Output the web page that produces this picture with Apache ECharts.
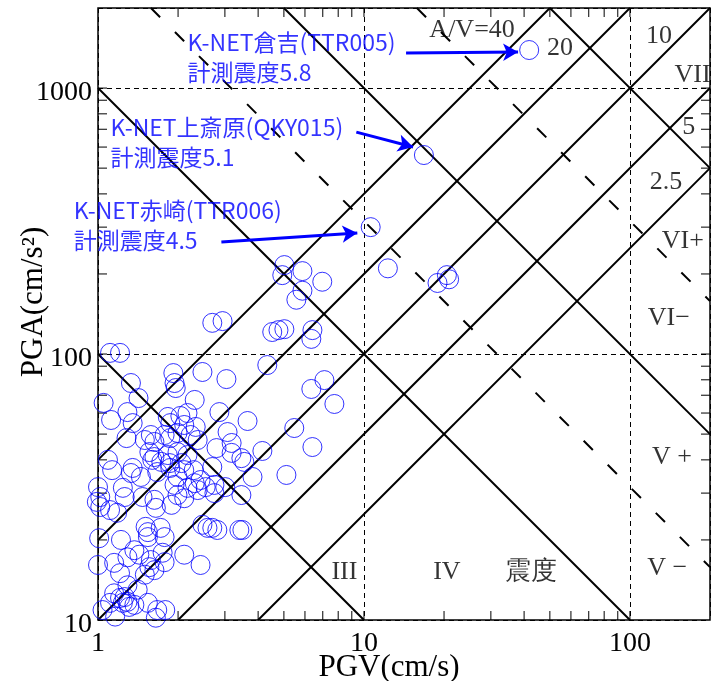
<!DOCTYPE html>
<html lang="ja">
<head>
<meta charset="UTF-8">
<title>PGV-PGA</title>
<script src="https://cdn.jsdelivr.net/npm/echarts@6/dist/echarts.min.js"></script>
<style>
    html, body { margin: 0; padding: 0; background: #fff; }
    #container { width: 712px; height: 681px; }
</style>
</head>
<body>
<div id="container"></div>
<script>
    // 観測点 (PGV cm/s, PGA cm/s2)
    var pgv = [41.8, 16.8, 10.6, 12.3, 18.9, 20.5, 20.9, 5.02, 4.93, 5.87, 6.97, 5.87, 5.57, 2.94, 2.69, 4.52, 4.77, 5.02, 6.40, 6.34,
        4.33, 1.11, 1.21, 1.92, 2.47, 1.33, 1.94, 1.96, 1.05, 1.42, 2.31, 1.29, 1.12, 1.35, 1.83, 1.87, 2.17, 2.11, 2.33, 1.28,
        1.58, 1.63, 1.78, 1.87, 1.99, 2.23, 2.37, 1.50, 1.56, 1.63, 1.60, 1.83, 1.99, 2.17, 1.09, 1.13, 1.35, 1.33, 1.45, 1.86,
        1.87, 2.11, 1.99, 2.43, 2.31, 1.00, 1.24, 1.94, 2.17, 2.37, 2.54, 1.02, 1.99, 3.04, 7.10, 6.34, 7.74, 2.86, 3.65, 5.47,
        3.07, 3.18, 6.40, 4.15, 2.79, 3.18, 3.46, 3.55, 2.69, 3.81, 5.11, 3.01, 2.74, 3.46, 2.74, 1.67, 1.73, 2.06, 2.04, 2.29,
        0.99, 1.02, 1.11, 1.18, 1.26, 1.47, 1.63, 2.11, 1.65, 1.01, 1.22, 1.51, 1.54, 1.54, 1.72, 1.78, 2.47, 2.58, 2.69, 1.00,
        1.15, 1.21, 1.29, 1.37, 1.43, 1.56, 1.63, 1.58, 1.75, 1.78, 2.11, 2.43, 1.50, 1.15, 1.21, 1.26, 1.29, 1.24, 1.37, 1.11,
        1.04, 1.16, 1.54, 1.67, 1.79, 1.65, 1.41, 1.29, 2.81, 3.40, 3.49, 1.31, 1.89];
    var pga = [1390, 560, 300, 210, 185, 198, 191, 216, 198, 205, 187, 173, 160, 133, 131, 121, 123, 124, 123, 114,
        90.9, 101, 101, 84.8, 85.6, 77.8, 77.8, 74.5, 65.5, 68.3, 67.2, 60.5, 56.5, 55.0, 58.0, 55.0, 60.0, 54.1, 53.2, 48.3,
        49.6, 46.7, 49.6, 48.3, 50.5, 49.6, 47.5, 47.5, 42.8, 41.0, 40.0, 41.7, 42.8, 41.7, 40.0, 36.6, 37.3, 35.7, 34.5, 38.9,
        37.3, 36.6, 34.5, 33.6, 32.7, 31.6, 31.4, 32.2, 31.4, 30.8, 31.6, 29.0, 29.5, 80.5, 79.8, 73.9, 64.9, 60.5, 56.0, 52.7,
        50.9, 46.3, 44.7, 43.2, 44.3, 42.5, 40.6, 39.3, 37.6, 34.5, 35.1, 31.6, 32.2, 29.5, 30.0, 36.0, 39.3, 38.9, 58.5, 36.6,
        27.8, 26.6, 25.9, 25.3, 29.0, 29.0, 28.3, 28.7, 26.4, 20.3, 20.0, 22.4, 21.4, 20.5, 22.2, 20.5, 22.8, 22.2, 22.2, 16.1,
        16.4, 15.0, 17.2, 18.3, 17.6, 15.8, 15.4, 16.8, 17.9, 16.5, 17.6, 16.1, 14.8, 12.6, 12.1, 12.2, 11.7, 11.6, 11.4, 11.6,
        10.9, 10.3, 11.6, 10.9, 10.9, 10.2, 13.0, 13.5, 21.8, 21.8, 21.8, 11.2, 27.1];

    // A/V 一定の線と A*V 一定の線 (震度境界)
    var avRatios = [40, 20, 10, 5, 2.5];
    var avProducts = [100, 1000, 3162, 10000, 31623, 100000];
    var avProductDashed = [false, false, true, false, true, false];

    var xMin = 1, xMax = 200, yMin = 10, yMax = 2000;
    var decadesX = [1, 10, 100];
    var decadesY = [10, 100, 1000];

    // 図中ラベル
    var plotLabels = [
        {name: 'A/V=40', value: [25.5, 1652]},
        {name: '20', value: [54.6, 1413]},
        {name: '10', value: [128.5, 1567]},
        {name: 'VII', value: [172, 1120]},
        {name: '5', value: [166.5, 713]},
        {name: '2.5', value: [136.5, 444]},
        {name: 'VI+', value: [158, 266]},
        {name: 'VI−', value: [140, 136]},
        {name: 'V +', value: [144, 41]},
        {name: 'V −', value: [138, 15.7]},
        {name: 'III', value: [8.44, 15.1]},
        {name: 'IV', value: [20.5, 15.1]},
        {name: '震度', value: [42.5, 15.1]}
    ];

    var stationNotes = [
        {name: 'K-NET倉吉(TTR005)\n計測震度5.8', value: [2.17, 1302]},
        {name: 'K-NET上斎原(QKY015)\n計測震度5.1', value: [1.115, 627]},
        {name: 'K-NET赤崎(TTR006)\n計測震度4.5', value: [0.81, 304]}
    ];
    var arrows = [
        [[14.4, 1354], [37.97, 1365]],
        [[9.36, 683], [15.3, 600]],
        [[2.91, 264], [9.44, 285]]
    ];

    var blue = '#0000ff';
    var serif = '"Liberation Serif", "Times New Roman", serif';
    var tickLen = 9;

    var points = pgv.map(function (v, i) { return [v, pga[i]]; });

    var xTicks = [], yTicks = [];
    decadesX.forEach(function (d) {
        for (var k = 1; k <= 9; k++) {
            var v = d * k;
            if (v > xMin && v < xMax) xTicks.push([v, yMin]);
        }
    });
    decadesY.forEach(function (d) {
        for (var k = 1; k <= 9; k++) {
            var v = d * k;
            if (v > yMin && v < yMax) yTicks.push([xMin, v]);
        }
    });

    function isDecade(v) {
        var l = Math.log(v) / Math.LN10;
        return Math.abs(l - Math.round(l)) < 1e-6;
    }

    var lineSeries = [];
    avRatios.forEach(function (r) {
        var v1 = Math.max(xMin, yMin / r), v2 = Math.min(xMax, yMax / r);
        lineSeries.push({
            type: 'line', silent: true, showSymbol: false, z: 3,
            lineStyle: {color: '#000', width: 2},
            data: [[v1, v1 * r], [v2, v2 * r]]
        });
    });
    avProducts.forEach(function (p, i) {
        var v1 = Math.max(xMin, p / yMax), v2 = Math.min(xMax, p / yMin);
        lineSeries.push({
            type: 'line', silent: true, showSymbol: false, z: 3,
            lineStyle: {color: '#000', width: 2, type: avProductDashed[i] ? [13, 21] : 'solid'},
            data: [[v1, p / v1], [v2, p / v2]]
        });
    });

    function renderXTick(params, api) {
        var cs = params.coordSys;
        var x = api.coord([api.value(0), yMin])[0];
        var b = cs.y + cs.height, t = cs.y;
        return {
            type: 'group', children: [
                {type: 'line', shape: {x1: x, y1: b, x2: x, y2: b - tickLen}, style: {stroke: '#000', lineWidth: 1}},
                {type: 'line', shape: {x1: x, y1: t, x2: x, y2: t + tickLen}, style: {stroke: '#000', lineWidth: 1}}
            ]
        };
    }
    function renderYTick(params, api) {
        var cs = params.coordSys;
        var y = api.coord([xMin, api.value(1)])[1];
        var l = cs.x, r = cs.x + cs.width;
        return {
            type: 'group', children: [
                {type: 'line', shape: {x1: l, y1: y, x2: l + tickLen, y2: y}, style: {stroke: '#000', lineWidth: 1}},
                {type: 'line', shape: {x1: r, y1: y, x2: r - tickLen, y2: y}, style: {stroke: '#000', lineWidth: 1}}
            ]
        };
    }

    var myChart = echarts.init(document.getElementById('container'));

    myChart.setOption({
        animation: false,
        backgroundColor: '#fff',
        grid: {
            left: 98, top: 8, width: 612, height: 612,
            outerBoundsMode: 'none', containLabel: false,
            show: true, borderColor: '#000', borderWidth: 1.5
        },
        xAxis: {
            type: 'log', logBase: 10, min: xMin, max: xMax,
            axisLine: {show: false},
            axisTick: {show: false},
            splitLine: {show: true, lineStyle: {color: '#000', width: 1, type: [5, 4]}},
            axisLabel: {
                color: '#000', fontFamily: serif, fontSize: 28, margin: 10,
                formatter: function (v) { return isDecade(v) ? String(Math.round(v)) : ''; }
            },
            name: 'PGV(cm/s)', nameLocation: 'middle', nameGap: 32, nameMoveOverlap: false,
            nameTextStyle: {color: '#000', fontFamily: serif, fontSize: 31, padding: [0, 30, 0, 0]}
        },
        yAxis: {
            type: 'log', logBase: 10, min: yMin, max: yMax,
            axisLine: {show: false},
            axisTick: {show: false},
            splitLine: {show: true, lineStyle: {color: '#000', width: 1, type: [5, 4]}},
            axisLabel: {
                color: '#000', fontFamily: serif, fontSize: 28, margin: 6,
                formatter: function (v) { return isDecade(v) ? '{n|' + Math.round(v) + '}' : ''; },
                rich: {n: {color: '#000', fontFamily: serif, fontSize: 28, padding: [10, 0, 0, 0]}}
            },
            name: 'PGA(cm/s²)', nameLocation: 'middle', nameGap: 49, nameMoveOverlap: false,
            nameTextStyle: {color: '#000', fontFamily: serif, fontSize: 31, padding: [0, 0, 0, 24]}
        },
        series: lineSeries.concat([
            {
                type: 'custom', silent: true, z: 4,
                renderItem: renderXTick, data: xTicks
            },
            {
                type: 'custom', silent: true, z: 4,
                renderItem: renderYTick, data: yTicks
            },
            {
                type: 'scatter', clip: false, z: 5,
                symbol: 'circle', symbolSize: 19,
                itemStyle: {color: 'rgba(0,0,0,0)', borderColor: blue, borderWidth: 1},
                data: points
            },
            {
                type: 'scatter', clip: false, silent: true, z: 6,
                symbolSize: 0,
                label: {
                    show: true, position: [0, 0], align: 'center', verticalAlign: 'middle',
                    formatter: '{b}', color: '#000', fontFamily: serif, fontSize: 26
                },
                data: plotLabels
            },
            {
                type: 'scatter', clip: false, silent: true, z: 6,
                symbolSize: 0,
                label: {
                    show: true, position: [0, 0], align: 'left', verticalAlign: 'middle',
                    formatter: '{b}', color: blue, lineHeight: 30,
                    fontFamily: '"Noto Sans CJK JP", "Noto Sans", sans-serif', fontSize: 23
                },
                data: stationNotes,
                markLine: {
                    silent: true, animation: false,
                    symbol: ['none', 'arrow'], symbolSize: [13, 15],
                    label: {show: false},
                    lineStyle: {color: blue, width: 3, type: 'solid'},
                    data: arrows.map(function (a) {
                        return [{coord: a[0]}, {coord: a[1]}];
                    })
                }
            }
        ])
    });
</script>
</body>
</html>
